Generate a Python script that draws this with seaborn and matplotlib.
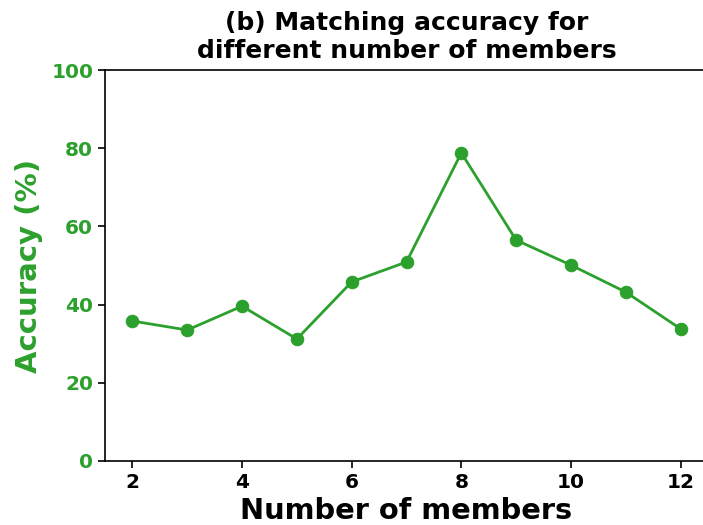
import matplotlib
matplotlib.use("Agg")
import matplotlib.pyplot as plt
import seaborn as sns
import pandas as pd

members = [2, 3, 4, 5, 6, 7, 8, 9, 10, 11, 12]
accuracy = [35.8, 33.5, 39.6, 31.2, 45.8, 50.9, 78.8, 56.5, 50.1, 43.2, 33.8]
x_ticks = [2, 4, 6, 8, 10, 12]
y_ticks = [0, 20, 40, 60, 80, 100]

sns.set_style("white")
plt.rcParams['font.family'] = ['DejaVu Sans']
plt.rcParams['text.color'] = 'black'
plt.rcParams['axes.labelcolor'] = 'black'
plt.rcParams['xtick.color'] = 'black'
plt.rcParams['ytick.color'] = 'black'

green = "#2ca02c"
df = pd.DataFrame({"members": members, "accuracy": accuracy})

fig = plt.figure(figsize=(7.03, 5.25), dpi=100)
ax = fig.add_axes([105 / 703, 1 - 461 / 525, 603 / 703, 391 / 525])

sns.lineplot(data=df, x="members", y="accuracy", ax=ax, color=green,
             marker="o", markersize=9, markeredgecolor=green, linewidth=2)

ax.set_xlim(1.5, 12.5)
ax.set_ylim(0, 100)
ax.set_xticks(x_ticks)
ax.set_yticks(y_ticks)
ax.tick_params(axis="both", direction="out", length=5, width=1.2, labelsize=14.5,
               left=True, bottom=True, colors="black")
for lbl in ax.get_xticklabels():
    lbl.set_fontweight("bold")
    lbl.set_color("black")
for lbl in ax.get_yticklabels():
    lbl.set_fontweight("bold")
    lbl.set_color(green)

ax.set_xlabel("Number of members", fontsize=20.8, fontweight="bold", color="black",
              labelpad=4)
ax.set_ylabel("Accuracy (%)", fontsize=21, fontweight="bold", color=green,
              labelpad=6)
ax.set_title("(b) Matching accuracy for\ndifferent number of members",
             fontsize=18, fontweight="bold", color="black", pad=9)

for side in ["left", "top", "bottom"]:
    ax.spines[side].set_color("black")
    ax.spines[side].set_linewidth(1.2)
ax.spines["right"].set_visible(False)

fig.savefig("out.png", dpi=100)
